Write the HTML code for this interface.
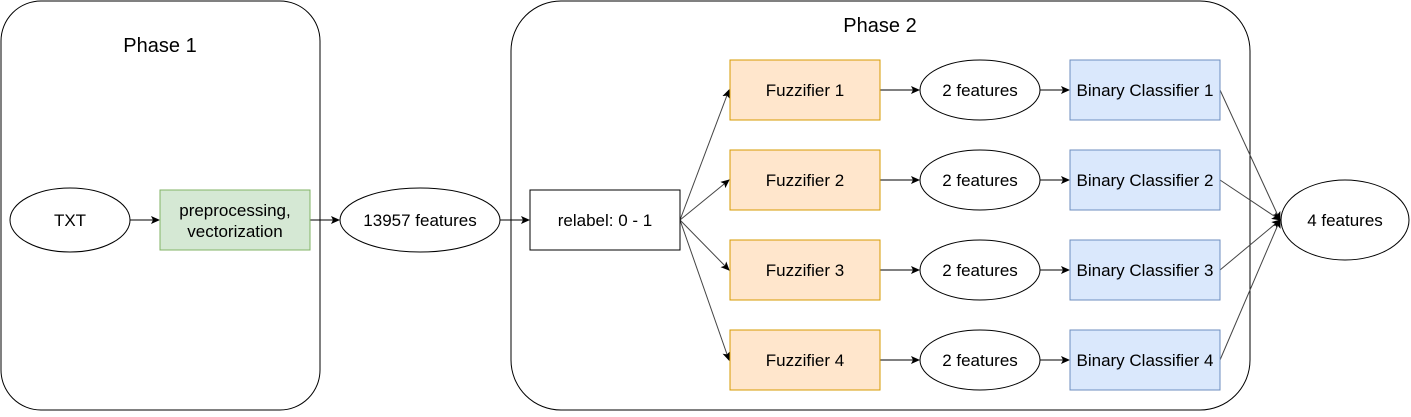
<!DOCTYPE html>
<html><head><style>body{margin:0;background:#fff}</style></head><body>
<svg width="1411" height="412" xmlns="http://www.w3.org/2000/svg" font-family="Liberation Sans, Arial, sans-serif" font-size="17">
<defs><marker id="a" markerWidth="10" markerHeight="10" refX="8" refY="4" orient="auto" markerUnits="userSpaceOnUse"><path d="M0,0 L9,4 L0,8 L2,4 z" fill="#000"/></marker></defs>
<rect x="1" y="1" width="319" height="409" rx="40" fill="#fff" stroke="#000"/>
<text x="160" y="52" text-anchor="middle" font-size="20">Phase 1</text>
<rect x="511" y="1" width="739" height="409" rx="50" fill="#fff" stroke="#000"/>
<text x="880" y="32" text-anchor="middle" font-size="20">Phase 2</text>
<g stroke="#000" fill="none" stroke-width="1">
<line x1="130" y1="220" x2="159" y2="220" marker-end="url(#a)"/>
<line x1="310" y1="220" x2="339" y2="220" marker-end="url(#a)"/>
<line x1="500" y1="220" x2="529" y2="220" marker-end="url(#a)"/>
<g stroke="#444">
<line x1="680" y1="220" x2="729" y2="90" marker-end="url(#a)"/>
<line x1="680" y1="220" x2="729" y2="180" marker-end="url(#a)"/>
<line x1="680" y1="220" x2="729" y2="270" marker-end="url(#a)"/>
<line x1="680" y1="220" x2="729" y2="360" marker-end="url(#a)"/>
<line x1="1220" y1="90" x2="1280" y2="220" marker-end="url(#a)"/>
<line x1="1220" y1="180" x2="1280" y2="220" marker-end="url(#a)"/>
<line x1="1220" y1="270" x2="1280" y2="220" marker-end="url(#a)"/>
<line x1="1220" y1="360" x2="1280" y2="220" marker-end="url(#a)"/>
</g>
<g id="r">
<line x1="880" y1="90" x2="919" y2="90" marker-end="url(#a)"/>
<line x1="1040" y1="90" x2="1069" y2="90" marker-end="url(#a)"/>
</g>
<use href="#r" y="90"/><use href="#r" y="180"/><use href="#r" y="270"/>
</g>
<ellipse cx="70" cy="220" rx="60" ry="32" fill="#fff" stroke="#000"/>
<text x="70" y="226" text-anchor="middle">TXT</text>
<rect x="160" y="190" width="150" height="60" fill="#d5e8d4" stroke="#82b366"/>
<text x="235" y="216" text-anchor="middle">preprocessing,</text>
<text x="235" y="237" text-anchor="middle">vectorization</text>
<ellipse cx="420" cy="220" rx="80" ry="32" fill="#fff" stroke="#000"/>
<text x="420" y="226" text-anchor="middle">13957 features</text>
<rect x="530" y="190" width="150" height="60" fill="#fff" stroke="#000"/>
<text x="605" y="226" text-anchor="middle">relabel: 0 - 1</text>
<g>
<rect x="730" y="60" width="150" height="60" fill="#ffe6cc" stroke="#d79b00"/><text x="805" y="96" text-anchor="middle">Fuzzifier 1</text>
<rect x="730" y="150" width="150" height="60" fill="#ffe6cc" stroke="#d79b00"/><text x="805" y="186" text-anchor="middle">Fuzzifier 2</text>
<rect x="730" y="240" width="150" height="60" fill="#ffe6cc" stroke="#d79b00"/><text x="805" y="276" text-anchor="middle">Fuzzifier 3</text>
<rect x="730" y="330" width="150" height="60" fill="#ffe6cc" stroke="#d79b00"/><text x="805" y="366" text-anchor="middle">Fuzzifier 4</text>
<ellipse cx="980" cy="90" rx="60" ry="30" fill="#fff" stroke="#000"/><text x="980" y="96" text-anchor="middle">2 features</text>
<ellipse cx="980" cy="180" rx="60" ry="30" fill="#fff" stroke="#000"/><text x="980" y="186" text-anchor="middle">2 features</text>
<ellipse cx="980" cy="270" rx="60" ry="30" fill="#fff" stroke="#000"/><text x="980" y="276" text-anchor="middle">2 features</text>
<ellipse cx="980" cy="360" rx="60" ry="30" fill="#fff" stroke="#000"/><text x="980" y="366" text-anchor="middle">2 features</text>
<rect x="1070" y="60" width="150" height="60" fill="#dae8fc" stroke="#6c8ebf"/><text x="1145" y="96" text-anchor="middle">Binary Classifier 1</text>
<rect x="1070" y="150" width="150" height="60" fill="#dae8fc" stroke="#6c8ebf"/><text x="1145" y="186" text-anchor="middle">Binary Classifier 2</text>
<rect x="1070" y="240" width="150" height="60" fill="#dae8fc" stroke="#6c8ebf"/><text x="1145" y="276" text-anchor="middle">Binary Classifier 3</text>
<rect x="1070" y="330" width="150" height="60" fill="#dae8fc" stroke="#6c8ebf"/><text x="1145" y="366" text-anchor="middle">Binary Classifier 4</text>
</g>
<ellipse cx="1345" cy="220" rx="64" ry="40" fill="#fff" stroke="#000"/>
<text x="1345" y="226" text-anchor="middle">4 features</text>
</svg>
</body></html>
